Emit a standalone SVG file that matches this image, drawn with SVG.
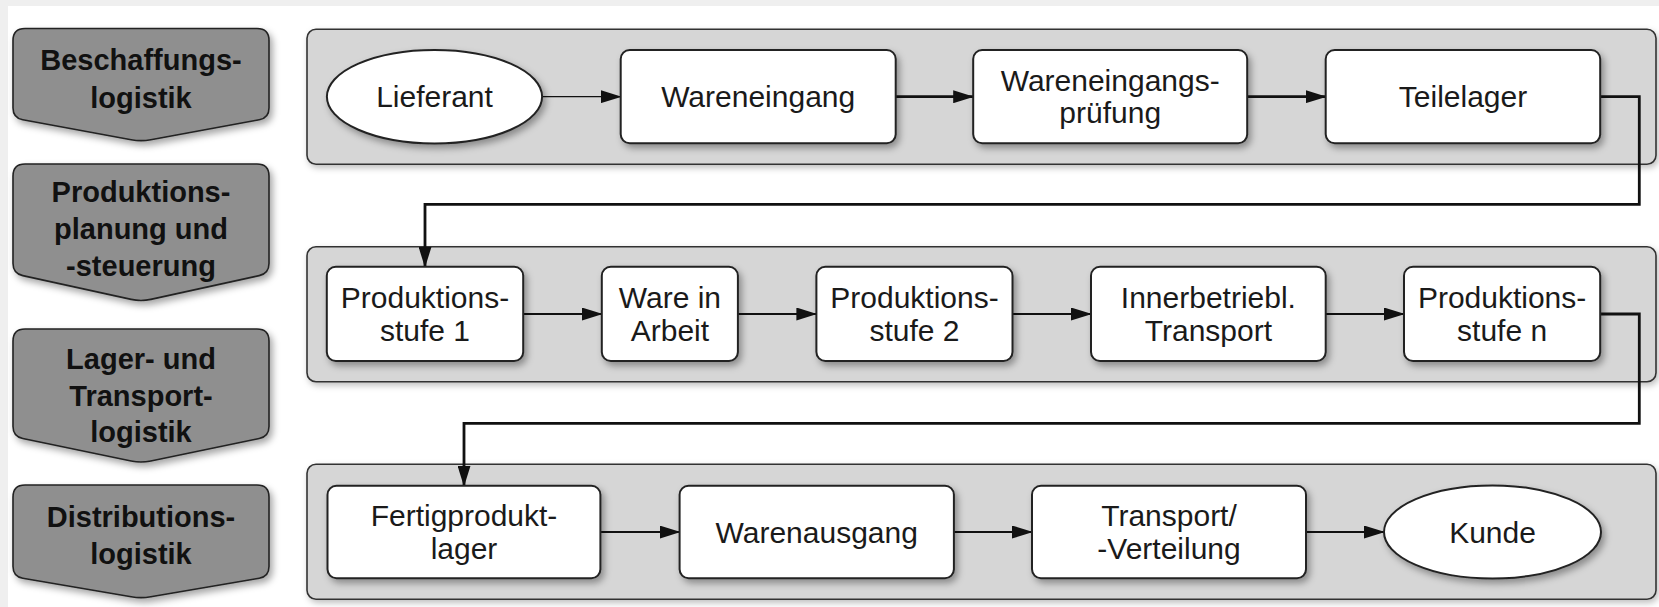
<svg xmlns="http://www.w3.org/2000/svg" width="1659" height="607" viewBox="0 0 1659 607">
  <defs>
    <filter id="shadow" x="-10%" y="-20%" width="130%" height="150%">
      <feDropShadow dx="3" dy="4" stdDeviation="3.5" flood-color="#000" flood-opacity="0.35"/>
    </filter>
    <filter id="laneShadow" x="-5%" y="-10%" width="110%" height="130%">
      <feDropShadow dx="2" dy="3" stdDeviation="3" flood-color="#000" flood-opacity="0.25"/>
    </filter>
    <marker id="arrow" markerUnits="userSpaceOnUse" markerWidth="21" markerHeight="13" refX="20" refY="6.5" orient="auto">
      <path d="M0,0 L21,6.5 L0,13 Z" fill="#111"/>
    </marker>
  </defs>
  <style>
    .label { fill: #8f8f8f; stroke: #222; stroke-width: 1.6; filter: url(#shadow); }
    .label-text { font-family: "Liberation Sans", Arial, sans-serif; font-weight: bold; font-size: 29px; fill: #111; text-anchor: middle; }
    .lane { fill: #d6d6d6; stroke: #333; stroke-width: 1.6; filter: url(#laneShadow); }
    .node { fill: #fff; stroke: #222; stroke-width: 2; filter: url(#shadow); }
    .node-text { font-family: "Liberation Sans", Arial, sans-serif; font-size: 30px; fill: #1a1a1a; text-anchor: middle; }
    .conn { fill: none; stroke: #111; marker-end: url(#arrow); }
    .thin { stroke-width: 1.3; }
    .mid { stroke-width: 1.9; }
    .thick { stroke-width: 2.8; }
  </style>

  <!-- page frame -->
  <rect x="0" y="0" width="1659" height="607" fill="#efefef"/>
  <rect x="8" y="6" width="1651" height="601" fill="#fff"/>

  <!-- category labels -->
  <g id="label-beschaffung">
    <path class="label" d="M25,28.5 H257 Q269,28.5 269,40.5 V108 Q269,118 259.2,119.8 L150.8,139.7 Q141,141.5 131.2,139.7 L22.8,119.8 Q13,118 13,108 V40.5 Q13,28.5 25,28.5 Z"/>
    <text class="label-text" x="141" y="70">Beschaffungs-</text>
    <text class="label-text" x="141" y="108">logistik</text>
  </g>
  <g id="label-pps">
    <path class="label" d="M25,164 H257 Q269,164 269,176 V263.5 Q269,273.5 259.2,275.6 L150.8,299.4 Q141,301.5 131.2,299.4 L22.8,275.6 Q13,273.5 13,263.5 V176 Q13,164 25,164 Z"/>
    <text class="label-text" x="141" y="201.5">Produktions-</text>
    <text class="label-text" x="141" y="239">planung und</text>
    <text class="label-text" x="141" y="276">-steuerung</text>
  </g>
  <g id="label-lager">
    <path class="label" d="M25,329 H257 Q269,329 269,341 V426.5 Q269,436.5 259.2,438.5 L150.8,461 Q141,463 131.2,461 L22.8,438.5 Q13,436.5 13,426.5 V341 Q13,329 25,329 Z"/>
    <text class="label-text" x="141" y="368.5">Lager- und</text>
    <text class="label-text" x="141" y="406">Transport-</text>
    <text class="label-text" x="141" y="442">logistik</text>
  </g>
  <g id="label-distribution">
    <path class="label" d="M25,485 H257 Q269,485 269,497 V566.5 Q269,576.5 259.2,578.2 L150.8,596.8 Q141,598.5 131.2,596.8 L22.8,578.2 Q13,576.5 13,566.5 V497 Q13,485 25,485 Z"/>
    <text class="label-text" x="141" y="526.5">Distributions-</text>
    <text class="label-text" x="141" y="564">logistik</text>
  </g>

  <!-- swimlanes -->
  <g id="lanes">
    <rect class="lane" x="307" y="29.3" width="1349" height="135" rx="9"/>
    <rect class="lane" x="307" y="246.7" width="1349" height="135" rx="9"/>
    <rect class="lane" x="307" y="464.3" width="1349" height="135" rx="9"/>
  </g>

  <!-- connectors -->
  <g id="connectors">
    <path class="conn thin" d="M542,96.7 H620.7"/>
    <path class="conn thick" d="M895.7,96.7 H973.2"/>
    <path class="conn thick" d="M1247.2,96.7 H1325.7"/>
    <path class="conn thick" d="M1600,96.7 H1639.3 V204.3 H425 V266.7"/>
    <path class="conn mid" d="M523.2,314 H601.8"/>
    <path class="conn mid" d="M737.9,314 H816.4"/>
    <path class="conn mid" d="M1012.5,314 H1091"/>
    <path class="conn mid" d="M1325.7,314 H1404"/>
    <path class="conn thick" d="M1600.2,314 H1639.3 V423.3 H464 V485.7"/>
    <path class="conn mid" d="M600.4,532 H679.6"/>
    <path class="conn mid" d="M953.9,532 H1032"/>
    <path class="conn mid" d="M1306,532 H1384"/>
  </g>

  <!-- row 1: procurement -->
  <g id="lieferant">
    <ellipse class="node" cx="434.5" cy="96.7" rx="107.6" ry="46.7"/>
    <text class="node-text" x="434.5" y="107.4">Lieferant</text>
  </g>
  <g id="wareneingang">
    <rect class="node" x="620.7" y="50" width="275" height="93.3" rx="9"/>
    <text class="node-text" x="758.2" y="107.4">Wareneingang</text>
  </g>
  <g id="wareneingangspruefung">
    <rect class="node" x="973.2" y="50" width="274" height="93.3" rx="9"/>
    <text class="node-text" x="1110.2" y="90.7">Wareneingangs-</text>
    <text class="node-text" x="1110.2" y="123.3">prüfung</text>
  </g>
  <g id="teilelager">
    <rect class="node" x="1325.7" y="50" width="274.5" height="93.3" rx="9"/>
    <text class="node-text" x="1463" y="107.4">Teilelager</text>
  </g>

  <!-- row 2: production -->
  <g id="produktionsstufe-1">
    <rect class="node" x="326.8" y="266.7" width="196.4" height="94.3" rx="9"/>
    <text class="node-text" x="425" y="308">Produktions-</text>
    <text class="node-text" x="425" y="340.6">stufe 1</text>
  </g>
  <g id="ware-in-arbeit">
    <rect class="node" x="601.8" y="266.7" width="136.1" height="94.3" rx="9"/>
    <text class="node-text" x="669.9" y="308">Ware in</text>
    <text class="node-text" x="669.9" y="340.6">Arbeit</text>
  </g>
  <g id="produktionsstufe-2">
    <rect class="node" x="816.4" y="266.7" width="196.1" height="94.3" rx="9"/>
    <text class="node-text" x="914.5" y="308">Produktions-</text>
    <text class="node-text" x="914.5" y="340.6">stufe 2</text>
  </g>
  <g id="innerbetrieblicher-transport">
    <rect class="node" x="1091" y="266.7" width="234.7" height="94.3" rx="9"/>
    <text class="node-text" x="1208.4" y="308">Innerbetriebl.</text>
    <text class="node-text" x="1208.4" y="340.6">Transport</text>
  </g>
  <g id="produktionsstufe-n">
    <rect class="node" x="1404" y="266.7" width="196.2" height="94.3" rx="9"/>
    <text class="node-text" x="1502.1" y="308">Produktions-</text>
    <text class="node-text" x="1502.1" y="340.6">stufe n</text>
  </g>

  <!-- row 3: distribution -->
  <g id="fertigproduktlager">
    <rect class="node" x="327.5" y="485.7" width="272.9" height="92.6" rx="9"/>
    <text class="node-text" x="464" y="526">Fertigprodukt-</text>
    <text class="node-text" x="464" y="558.5">lager</text>
  </g>
  <g id="warenausgang">
    <rect class="node" x="679.6" y="485.7" width="274.3" height="92.6" rx="9"/>
    <text class="node-text" x="816.7" y="542.7">Warenausgang</text>
  </g>
  <g id="transport-verteilung">
    <rect class="node" x="1032" y="485.7" width="274" height="92.6" rx="9"/>
    <text class="node-text" x="1169" y="526">Transport/</text>
    <text class="node-text" x="1169" y="558.5">-Verteilung</text>
  </g>
  <g id="kunde">
    <ellipse class="node" cx="1492.5" cy="532" rx="108.5" ry="46.6"/>
    <text class="node-text" x="1492.5" y="542.7">Kunde</text>
  </g>
</svg>
